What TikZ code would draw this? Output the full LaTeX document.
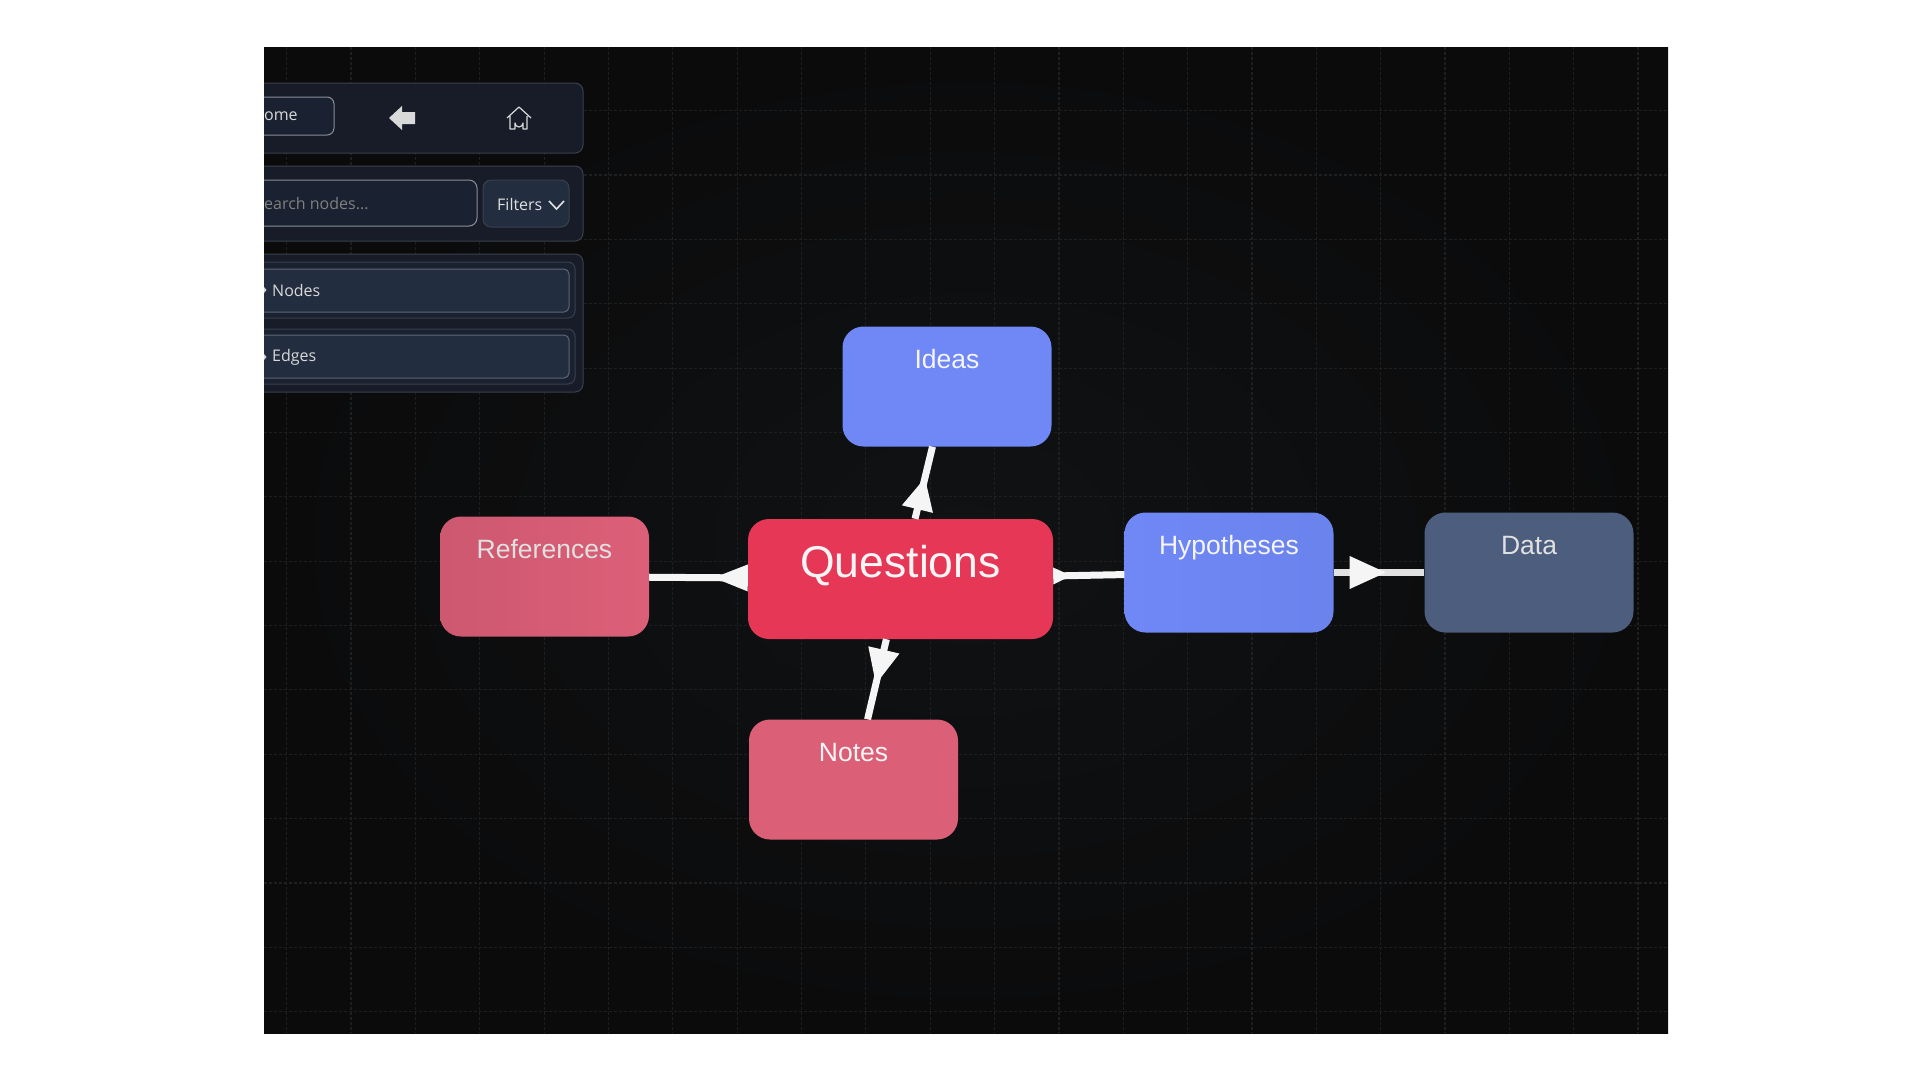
\documentclass[tikz,border=0pt]{standalone}
\usepackage{xcolor}
\usepackage{fontspec}
\setmainfont{Liberation Sans}
\newfontfamily\uifont{Open Sans}
\usetikzlibrary{arrows.meta,decorations.markings}
\definecolor{qback}{HTML}{0B0B0C}
\definecolor{qbackmid}{HTML}{101213}
\definecolor{qgrid}{HTML}{1E1F20}
\definecolor{qpanel}{HTML}{171C28}
\definecolor{qpanelline}{HTML}{3A404C}
\definecolor{qrow}{HTML}{222E40}
\definecolor{qrowback}{HTML}{1A2130}
\definecolor{qrowline}{HTML}{5E6673}
\definecolor{qhomeline}{HTML}{8A8F98}
\definecolor{qlink}{HTML}{F5F5F5}
\definecolor{qred}{HTML}{E73757}
\definecolor{qrose}{HTML}{DC5F78}
\definecolor{qblue}{HTML}{6F88F6}
\definecolor{qslate}{HTML}{4C5D7E}

\begin{document}
\begin{tikzpicture}[x=1pt, y=-1pt,
  box/.style={rounded corners=21pt,minimum width=209pt,minimum height=120pt,inner sep=0pt,text=qlink,
    font=\fontsize{26.5}{30}\selectfont,text height=42pt,text depth=78pt},
  panel/.style={draw=qpanelline,fill=qpanel,rounded corners=8pt,line width=1pt},
  rowback/.style={draw=qpanelline,fill=qrowback,rounded corners=7pt,line width=1pt},
  rowbar/.style={draw=qrowline,fill=qrow,rounded corners=5pt,line width=1pt},
  uitext/.style={inner sep=0pt,anchor=west,text=#1,font=\uifont\fontsize{16}{18}\selectfont},
  link/.style={draw=qlink,line width=7pt},
  head/.style n args={3}{postaction={decorate,decoration={markings,
    mark=at position #1pt with {\arrow[qlink,line width=0pt]{Triangle[length=#2pt,width=#3pt,round]}}}}}]
\useasboundingbox (0,0) rectangle (1920,1080);
\fill[white] (0,0) rectangle (1920,1080);
\begin{scope}
\clip (264,47) rectangle (1668,1033);
\shade[inner color=qbackmid,outer color=qback] (264,47) rectangle (1668,1033);
\foreach \i in {0,...,21} \draw[qgrid,densely dashed,line width=1.2pt] ({286.7+64.35*\i},47) -- ({286.7+64.35*\i},1033);
\foreach \j in {0,...,14} \draw[qgrid,densely dashed,line width=1.2pt] (264,{110.7+64.35*\j}) -- (1668,{110.7+64.35*\j});
% side panel
\draw[panel] (240,83) rectangle (583,153);
\draw[panel] (240,166) rectangle (583,241);
\draw[panel] (240,254) rectangle (583,392);
\draw[draw=qhomeline,fill=qrowback,rounded corners=7pt,line width=1pt] (240,97) rectangle (334,135);
\node[uitext=white!85!black] (home) at (264,116.5) {ome};
\fill[white!85!black] (389,118) -- (402,106) -- (402,112) -- (415,112) -- (415,124) -- (402,124) -- (402,130) -- cycle;
\draw[white!85!black,line width=1.2pt,line join=round] (507,118) -- (519,107) -- (531,118) (510,116) -- (510,129) -- (515,129) -- (515,123) arc (180:0:4) -- (523,129) -- (527,129) -- (527,116);
\draw[draw=qhomeline,fill=qrowback,rounded corners=8pt,line width=1pt] (240,180) rectangle (477,226);
\node[uitext=white!50!black] (search) at (264,203.5) {earch nodes...};
\draw[draw=qpanelline,fill=qrow,rounded corners=8pt,line width=1pt] (483,180) rectangle (569,227);
\node[uitext=white!88!black] (filters) at (497,204) {Filters};
\draw[white!88!black,line width=1.6pt] (549,201) -- (556.5,209) -- (564,201);
\draw[rowback] (240,262) rectangle (575,318);
\draw[rowbar] (240,269) rectangle (569,312);
\node[uitext=white!85!black] (nodes) at (272,290) {Nodes};
\fill[white!85!black] (264,287) -- (266.5,290) -- (264,293) -- cycle;
\draw[rowback] (240,329) rectangle (575,384);
\draw[rowbar] (240,335) rectangle (569,378);
\node[uitext=white!85!black] (edges) at (272,357) {Edges};
\fill[white!85!black] (264,354) -- (266.5,357) -- (264,360) -- cycle;
\end{scope}
% boxes
\node[box,fill=qred,minimum width=305pt,font=\fontsize{44.5}{50}\selectfont,text height=58pt,text depth=62pt] (questions) at (900.5,579) {Questions};
\node[box,fill=qblue] (ideas) at (947,386.5) {Ideas};
\node[box,left color=qrose!93!black,right color=qrose,text=qlink!92!black] (references) at (544.5,576.5) {References};
\node[box,left color=qblue,right color=qblue!96!black] (hypotheses) at (1229,572.5) {Hypotheses};
\node[box,fill=qslate,text=qlink!92!black] (data) at (1529,572.5) {Data};
\node[box,fill=qrose] (notes) at (853.5,779.5) {Notes};
% connectors
\draw[link,head={42}{32}{32}] (questions) -- (ideas);
\draw[link,head={34}{34}{27}] (questions) -- (references);
\draw[link,head={18}{18}{17}] (questions) -- (hypotheses);
\draw[link,head={46}{35}{32}] (questions) -- (notes);
\draw[link,draw=qlink!92!black,head={52}{36}{33}] (hypotheses) -- (data);
\end{tikzpicture}
\end{document}
